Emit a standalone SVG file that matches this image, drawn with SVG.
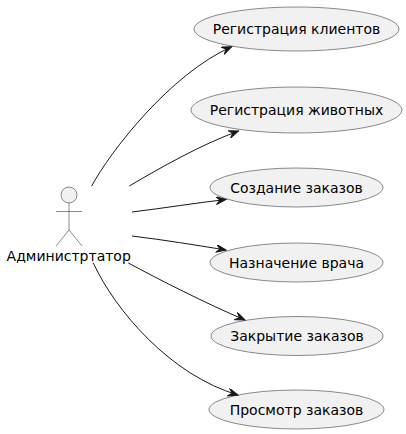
<svg xmlns="http://www.w3.org/2000/svg" width="406" height="434" viewBox="0 0 406 434">
<style>
.uc{fill:#F1F1F1;stroke:#181818;stroke-width:0.5}
.lbl{font-family:"DejaVu Sans",sans-serif;font-size:14px;fill:#000000;text-anchor:middle}
.edge{fill:none;stroke:#181818;stroke-width:1}
</style>
<defs>
<marker id="ah" markerUnits="userSpaceOnUse" markerWidth="12" markerHeight="10" refX="10" refY="4" orient="auto">
<path d="M0,0 L10,4 L0,8 L4,4 Z" fill="#181818" stroke="#181818" stroke-width="1"/>
</marker>
</defs>
<rect width="406" height="434" fill="#FFFFFF"/>
<g id="actor">
<circle class="uc" cx="69" cy="195" r="8"/>
<line class="uc" x1="69" y1="203" x2="69" y2="230"/>
<line class="uc" x1="56" y1="211.5" x2="82" y2="211.5"/>
<line class="uc" x1="69" y1="230" x2="56" y2="246"/>
<line class="uc" x1="69" y1="230" x2="82" y2="246"/>
<text class="lbl" x="68.7" y="261">Администртатор</text>
</g>
<g id="uc1">
<ellipse class="uc" cx="296.5" cy="29" rx="102.5" ry="22"/>
<text class="lbl" x="296.5" y="34">Регистрация клиентов</text>
</g>
<g id="uc2">
<ellipse class="uc" cx="296.5" cy="110" rx="105.5" ry="23"/>
<text class="lbl" x="296.5" y="115">Регистрация животных</text>
</g>
<g id="uc3">
<ellipse class="uc" cx="296.5" cy="187.5" rx="86.5" ry="19.5"/>
<text class="lbl" x="296.5" y="192.5">Создание заказов</text>
</g>
<g id="uc4">
<ellipse class="uc" cx="296.5" cy="262.5" rx="86.5" ry="19.5"/>
<text class="lbl" x="296.5" y="267.5">Назначение врача</text>
</g>
<g id="uc5">
<ellipse class="uc" cx="297" cy="336" rx="86" ry="19.5"/>
<text class="lbl" x="297" y="341">Закрытие заказов</text>
</g>
<g id="uc6">
<ellipse class="uc" cx="296.5" cy="409.5" rx="87.5" ry="19.5"/>
<text class="lbl" x="296.5" y="414.5">Просмотр заказов</text>
</g>
<g id="connectors">
<path class="edge" marker-end="url(#ah)" d="M91.7,186 C110,152 170,74 231.7,46.7"/>
<path class="edge" marker-end="url(#ah)" d="M129.3,186 C160,168 200,145 238.5,131"/>
<path class="edge" marker-end="url(#ah)" d="M132,212 C165,208 195,203 226,199.5"/>
<path class="edge" marker-end="url(#ah)" d="M132,236 C165,240 195,245 226,250"/>
<path class="edge" marker-end="url(#ah)" d="M128.3,263 C160,280 205,303 245,320"/>
<path class="edge" marker-end="url(#ah)" d="M93.3,263 C115,310 170,375 238,395"/>
</g>
</svg>
